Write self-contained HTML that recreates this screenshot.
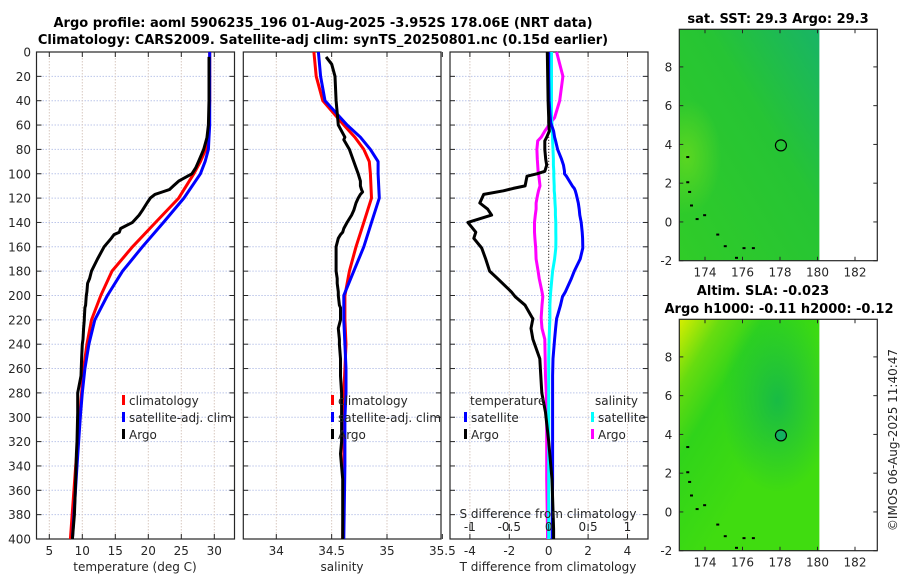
<!DOCTYPE html>
<html><head><meta charset="utf-8"><style>
html,body{margin:0;padding:0;background:#fff;}
svg{display:block;font-family:"DejaVu Sans","Liberation Sans",sans-serif;}
.tk{font-size:12px;fill:#262626;}
.ttl{font-size:13px;font-weight:bold;fill:#000;}
</style></head><body>
<svg id="fig" width="900" height="580" viewBox="0 0 900 580" xmlns="http://www.w3.org/2000/svg">
<defs>
<linearGradient id="g1" x1="0" y1="1" x2="1" y2="0">
<stop offset="0" stop-color="#30cc28"/><stop offset="0.6" stop-color="#26c434"/><stop offset="1" stop-color="#18b466"/></linearGradient>
<linearGradient id="g2" x1="0" y1="0" x2="0.6" y2="0.6">
<stop offset="0" stop-color="#d8ee00"/><stop offset="0.25" stop-color="#66dc10"/><stop offset="0.5" stop-color="#30d41a"/><stop offset="1" stop-color="#40dc10"/></linearGradient>
<radialGradient id="g2b" cx="0.7" cy="0.35" r="0.4"><stop offset="0" stop-color="#14b84a" stop-opacity="0.9"/><stop offset="1" stop-color="#14b84a" stop-opacity="0"/></radialGradient>
<radialGradient id="g1b" cx="0.05" cy="0.55" r="0.25"><stop offset="0" stop-color="#60d820" stop-opacity="0.9"/><stop offset="1" stop-color="#60d820" stop-opacity="0"/></radialGradient>
</defs>
<g id="root"></g>
</svg>
<script>
// ---------- Data ----------
const depthTicks = [0,20,40,60,80,100,120,140,160,180,200,220,240,260,280,300,320,340,360,380,400];
const tempTicks = [5,10,15,20,25,30];
const salTicks = [34,34.5,35,35.5];
const diffTTicks = [-4,-2,0,2,4];
const diffSTicks = [-1,-0.5,0,0.5,1];
const diffSTickLabels = ['-1','-0.5','0','0.5','1'];
const lonTicks = [174,176,178,180,182];
const latTicks = [-2,0,2,4,6,8];

const climDepth = [0,20,40,60,70,80,90,100,120,140,160,180,200,220,240,260,280,300,340,400];
const climT =     [29.3,29.3,29.3,29.2,29.0,28.7,27.9,26.9,24.6,21.1,17.6,14.5,12.8,11.4,10.7,10.2,9.9,9.6,9.0,8.2];
const satT =      [29.3,29.3,29.3,29.3,29.2,29.1,28.6,27.9,25.4,22.3,19.1,16.1,13.8,11.9,11.0,10.4,10.0,9.7,9.2,8.5];
const climS =     [34.34,34.36,34.42,34.61,34.71,34.79,34.84,34.85,34.86,34.79,34.72,34.66,34.62,34.62,34.63,34.62,34.61,34.61,34.61,34.60];
const satS =      [34.38,34.40,34.44,34.64,34.76,34.85,34.92,34.92,34.93,34.86,34.79,34.70,34.61,34.61,34.62,34.63,34.63,34.62,34.62,34.61];

const argoDepth = [4,10,20,40,60,70,72,80,90,95,100,103,106,110,113,115,117,120,124,130,134,140,145,148,150,153,160,170,180,186,190,197,200,208,210,219,220,227,236,240,252,266,280,296,320,330,351,380,400];
const argoT =     [29.2,29.2,29.2,29.2,29.1,28.9,28.8,28.4,27.6,27.2,26.6,25.6,24.6,23.8,23.2,22.1,21.0,20.3,19.8,19.1,18.6,17.6,15.8,15.6,14.8,14.4,13.3,12.3,11.4,11.1,10.8,10.7,10.6,10.5,10.4,10.3,10.3,10.2,10.1,10.0,9.9,9.8,9.3,9.3,9.2,9.1,9.0,8.8,8.5];
const argoS =     [34.45,34.50,34.53,34.54,34.56,34.62,34.61,34.66,34.70,34.72,34.74,34.75,34.76,34.76,34.77,34.78,34.76,34.74,34.72,34.70,34.68,34.64,34.61,34.60,34.58,34.56,34.54,34.54,34.54,34.55,34.55,34.56,34.56,34.57,34.58,34.58,34.58,34.56,34.57,34.57,34.58,34.58,34.59,34.59,34.59,34.58,34.60,34.60,34.60];

const diffDepth = [0,20,40,54,58,65,70,73,80,88,93,98,100,102,110,112,114,117,124,129,134,140,148,153,161,170,180,186,197,201,208,218,219,227,236,252,266,280,296,320,351,392,400];
const diffTArgo = [-0.07,-0.05,-0.03,0.0,0.0,0.03,-0.1,-0.2,-0.2,-0.15,-0.1,-0.2,-0.6,-1.1,-1.2,-1.8,-2.3,-3.3,-3.5,-3.1,-2.9,-4.1,-3.7,-3.8,-3.4,-3.2,-3.0,-2.6,-1.9,-1.7,-1.2,-0.85,-0.8,-0.9,-0.8,-0.45,-0.4,-0.35,-0.16,0.0,0.17,0.25,0.25];
const diffTSat  = [0.0,0.0,0.02,0.08,0.1,0.25,0.3,0.35,0.45,0.65,0.75,0.8,0.8,0.9,1.2,1.3,1.35,1.4,1.5,1.55,1.58,1.65,1.7,1.72,1.73,1.6,1.3,1.15,0.85,0.7,0.6,0.42,0.4,0.35,0.3,0.22,0.2,0.2,0.2,0.2,0.2,0.18,0.18];
const diffSSat  = [0.035,0.035,0.035,0.035,0.04,0.045,0.05,0.05,0.055,0.06,0.06,0.065,0.065,0.065,0.07,0.07,0.07,0.075,0.08,0.085,0.085,0.09,0.09,0.092,0.09,0.075,0.05,0.04,0.025,0.02,0.015,0.015,0.015,0.01,0.005,0.0,0.0,0.0,0.0,0.0,0.0,0.0,0.0];
const diffSArgo = [0.1,0.18,0.14,0.075,0.025,-0.05,-0.095,-0.14,-0.15,-0.145,-0.14,-0.135,-0.13,-0.125,-0.11,-0.12,-0.13,-0.14,-0.16,-0.16,-0.17,-0.18,-0.18,-0.175,-0.165,-0.16,-0.135,-0.12,-0.085,-0.075,-0.085,-0.095,-0.095,-0.085,-0.05,-0.045,-0.04,-0.03,-0.025,-0.025,-0.025,-0.015,-0.015];

const floatLon = 178.05, floatLat = 3.95;

// ---------- Helpers ----------
const NS = 'http://www.w3.org/2000/svg';
const root = document.getElementById('root');
function mk(tag, attrs, parent){ const e=document.createElementNS(NS,tag); for(const k in attrs) e.setAttribute(k,attrs[k]); (parent||root).appendChild(e); return e; }
function txt(x,y,s,cls,anchor,parent){ const t=mk('text',{x:x,y:y,'class':cls,'text-anchor':anchor||'middle'},parent); t.textContent=s; return t; }

const Y0=52, Y1=539;
const yD = d => Y0 + (d/400)*(Y1-Y0);

const P1={l:36.5,r:234.5}, P2={l:243.3,r:441}, P3={l:450,r:648};
const xT = t => 49.3 + (t-5)*6.6;
const xS = s => 276.3 + (s-34)*110.7;
const xDT = v => 548.7 + v*19.7;
const xDS = v => 548.7 + v*78.8;

function gridAndFrame(P, name, xticks, xfn, xlabels){
  const g=mk('g',{});
  
  
  depthTicks.forEach(d=>{ if(d>0&&d<400) mk('line',{x1:P.l,x2:P.r,y1:yD(d),y2:yD(d),stroke:'#bcc6ea','stroke-dasharray':'1.5,1.5','stroke-width':1},g); });
  xticks.forEach(v=>{ const x=xfn(v); if(x>P.l+1&&x<P.r-1) mk('line',{x1:x,x2:x,y1:Y0,y2:Y1,stroke:'#d8c8c0','stroke-dasharray':'1.5,1.5','stroke-width':1},g); });
  mk('rect',{x:P.l,y:Y0,width:P.r-P.l,height:Y1-Y0,fill:'none',stroke:'#262626','stroke-width':1.2},g);
  depthTicks.forEach(d=>{ mk('line',{x1:P.l,x2:P.l+5,y1:yD(d),y2:yD(d),stroke:'#262626'},g); mk('line',{x1:P.r,x2:P.r-5,y1:yD(d),y2:yD(d),stroke:'#262626'},g); });
  xticks.forEach((v,i)=>{ const x=xfn(v); mk('line',{x1:x,x2:x,y1:Y1,y2:Y1-5,stroke:'#262626'},g); mk('line',{x1:x,x2:x,y1:Y0,y2:Y0+5,stroke:'#262626'},g);
    const t=txt(x,Y1+16,xlabels?xlabels[i]:String(v),'tk','middle',g);
      });
  return g;
}
function line(xs,ds,xfn,color,name,w){
  const pts=xs.map((v,i)=>xfn(v).toFixed(1)+','+yD(ds[i]).toFixed(1)).join(' ');
  const p=mk('polyline',{points:pts,fill:'none',stroke:color,'stroke-width':w||3,'stroke-linejoin':'round'});
  
  
  return p;
}
function legendEntry(xBar,y,color,label,name){
  const g=mk('g',{});
  
  
  mk('rect',{x:xBar,y:y-10,width:3,height:10,fill:color},g);
  txt(xBar+7,y,label,'tk','start',g);
}

let t=txt(323,27,'Argo profile: aoml 5906235_196 01-Aug-2025 -3.952S 178.06E (NRT data)','ttl');
 
t=txt(323,44,'Climatology: CARS2009. Satellite-adj clim: synTS_20250801.nc (0.15d earlier)','ttl');
 

depthTicks.forEach(d=>{ const l=txt(31,yD(d)+4.5,String(d),'tk','end');   });

gridAndFrame(P1,'temperature-panel',tempTicks,xT);
line(climT,climDepth,xT,'#ff0000','temp-climatology-line');
line(satT,climDepth,xT,'#0000ff','temp-satellite-line');
line(argoT,argoDepth,xT,'#000000','temp-argo-line');
t=txt(135,571,'temperature (deg C)','tk');  
legendEntry(122,405,'#ff0000','climatology','legend-climatology');
legendEntry(122,422,'#0000ff','satellite-adj. clim','legend-satellite');
legendEntry(122,439,'#000000','Argo','legend-argo');

gridAndFrame(P2,'salinity-panel',salTicks,xS);
line(climS,climDepth,xS,'#ff0000','sal-climatology-line');
line(satS,climDepth,xS,'#0000ff','sal-satellite-line');
line(argoS,argoDepth,xS,'#000000','sal-argo-line');
t=txt(342,571,'salinity','tk');  
legendEntry(331,405,'#ff0000','climatology','legend-climatology-2');
legendEntry(331,422,'#0000ff','satellite-adj. clim','legend-satellite-2');
legendEntry(331,439,'#000000','Argo','legend-argo-2');

gridAndFrame(P3,'difference-panel',diffTTicks,xDT);
const zl=mk('line',{x1:xDT(0),x2:xDT(0),y1:yD(60),y2:yD(270),stroke:'#333','stroke-dasharray':'1,2','stroke-width':1});
 
line(diffSArgo,diffDepth,xDS,'#ff00ff','sdiff-argo-line');
line(diffSSat,diffDepth,xDS,'#00ffff','sdiff-satellite-line');
line(diffTSat,diffDepth,xDT,'#0000ff','tdiff-satellite-line');
line(diffTArgo,diffDepth,xDT,'#000000','tdiff-argo-line');
diffSTicks.forEach((v,i)=>{ const x=xDS(v); mk('line',{x1:x,x2:x,y1:Y1-15,y2:Y1-8,stroke:'#262626'});
  const l=txt(x,Y1-8,diffSTickLabels[i],'tk');   });
t=txt(548,518,'S difference from climatology','tk');  
t=txt(548,571,'T difference from climatology','tk');  
t=txt(470,405,'temperature','tk','start');  
t=txt(595,405,'salinity','tk','start');  
legendEntry(464,422,'#0000ff','satellite','legend-t-satellite');
legendEntry(464,439,'#000000','Argo','legend-t-argo');
legendEntry(591,422,'#00ffff','satellite','legend-s-satellite');
legendEntry(591,439,'#ff00ff','Argo','legend-s-argo');

function mapPanel(top,bottom,fillA,fillB,name,filled){
  const M={l:679.3,r:877.3,t:top,b:bottom};
  const xL = lon => 705 + (lon-174)*18.75;
  const yL = lat => M.b - (lat+2)*((M.b-M.t)/11.94);
  const g=mk('g',{});
  
  
  mk('rect',{x:M.l,y:M.t,width:xL(180.1)-M.l,height:M.b-M.t,fill:fillA},g);
  mk('rect',{x:M.l,y:M.t,width:xL(180.1)-M.l,height:M.b-M.t,fill:fillB},g);
  [[173.0,3.4],[173.1,1.6],[173.2,0.9],[173.5,0.2],[173.9,0.4],[174.6,-0.6],[175.0,-1.2],[176.0,-1.3],[176.5,-1.3],[175.6,-1.8],[173.0,2.1]].forEach(p=>{
    mk('rect',{x:xL(p[0]),y:yL(p[1]),width:3,height:2,fill:'#000'},g); });
  mk('rect',{x:M.l,y:M.t,width:M.r-M.l,height:M.b-M.t,fill:'none',stroke:'#262626','stroke-width':1.2},g);
  lonTicks.forEach(v=>{ const x=xL(v); mk('line',{x1:x,x2:x,y1:M.b,y2:M.b-4,stroke:'#262626'},g); mk('line',{x1:x,x2:x,y1:M.t,y2:M.t+4,stroke:'#262626'},g);
    const l=txt(x,M.b+16,String(v),'tk','middle',g);   });
  latTicks.forEach(v=>{ const y=yL(v); mk('line',{x1:M.l,x2:M.l+4,y1:y,y2:y,stroke:'#262626'},g); mk('line',{x1:M.r,x2:M.r-4,y1:y,y2:y,stroke:'#262626'},g);
    const l=txt(M.l-7,y+4.5,String(v),'tk','end',g);   });
  const c=mk('circle',{cx:xL(floatLon),cy:yL(floatLat),r:5.5,fill:filled?'#14b060':'none',stroke:'#000','stroke-width':1.2},g);
  
  
}
mapPanel(29.3,260.7,'url(#g1)','url(#g1b)','sst-map',false);
mapPanel(319.3,550.7,'url(#g2)','url(#g2b)','sla-map',true);
t=txt(778,23,'sat. SST: 29.3 Argo: 29.3','ttl');  
t=txt(763,295,'Altim. SLA: -0.023','ttl');  
t=txt(779,313,'Argo h1000: -0.11 h2000: -0.12','ttl');  
t=txt(0,0,'©IMOS 06-Aug-2025 11:40:47','tk');
t.setAttribute('transform','translate(897,440) rotate(-90)');
 
</script>
</body></html>
